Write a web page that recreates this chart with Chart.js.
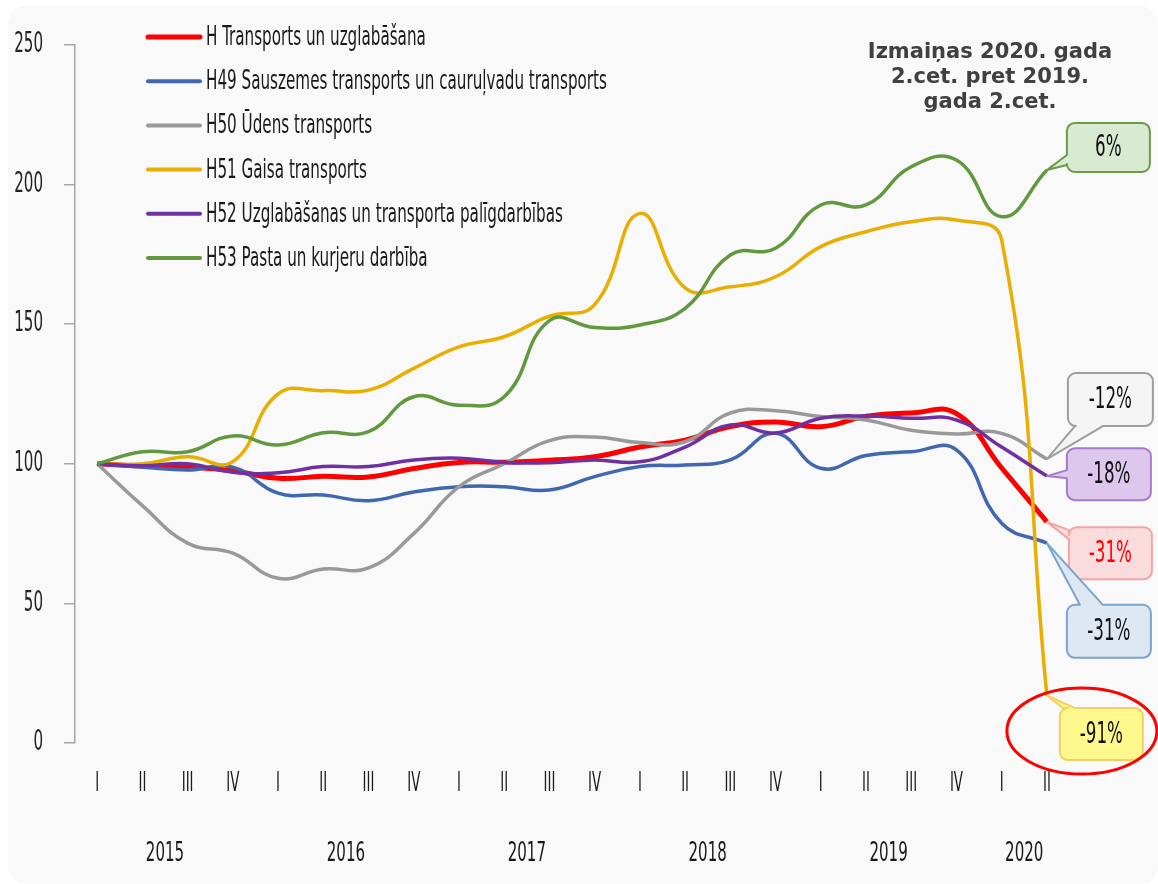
<!DOCTYPE html>
<html>
<head>
<meta charset="utf-8">
<script src="https://cdn.jsdelivr.net/npm/chart.js@4.4.0/dist/chart.umd.min.js"></script>
<style>
  html, body { margin: 0; padding: 0; background: #ffffff; }
  #frame { position: absolute; left: 8px; top: 6px; width: 1150px; height: 878px; background: #f9f9f9; border-radius: 18px; }
  #wrap { position: absolute; left: 0; top: 0; width: 1158px; height: 884px; }
</style>
</head>
<body>
<div id="frame"></div>
<div id="wrap"><canvas id="myChart" width="1158" height="884"></canvas></div>
<script>
// dati: indeksi pa ceturkšņiem, 2015. gada I cet. = 100
const quarters = ['I','II','III','IV','I','II','III','IV','I','II','III','IV','I','II','III','IV','I','II','III','IV','I','II'];
const years = ['2015','2015','2015','2015','2016','2016','2016','2016','2017','2017','2017','2017',
               '2018','2018','2018','2018','2019','2019','2019','2019','2020','2020'];
const yTicks = [0, 50, 100, 150, 200, 250];

const seriesNames = [
  'H Transports un uzglabāšana',
  'H49 Sauszemes transports un cauruļvadu transports',
  'H50 Ūdens transports',
  'H51 Gaisa transports',
  'H52 Uzglabāšanas un transporta palīgdarbības',
  'H53 Pasta un kurjeru darbība'
];
const hTotal = [100, 99.2, 98.8, 97.5, 94.8, 95.5, 95.3, 98.3, 100.5, 100.6, 101.3, 102.5, 106, 108.5, 113.3, 115, 113.3, 117, 118.2, 118, 98.5, 79.2];
const h49 = [100, 98.8, 97.8, 98.8, 89.5, 88.8, 86.8, 89.9, 91.8, 91.8, 90.6, 95.4, 99, 99.6, 101.4, 110.9, 98.4, 103, 104.3, 105, 78.7, 71.6];
const h50 = [100, 85, 71.6, 68, 59, 62.3, 62.7, 75, 91.8, 100, 108.3, 109.6, 107.6, 107.9, 118.2, 119, 116.9, 115.7, 112, 110.7, 110.9, 101.7];
const h51 = [100, 100, 102.5, 100.8, 125, 126.2, 126.4, 134.2, 141.9, 145.5, 152.9, 157, 189.7, 163, 163.4, 167, 177.8, 183.1, 186.7, 187.3, 180.2, 17];
const h52 = [100, 99.3, 100, 97, 96.8, 99, 99, 101.4, 102, 100.5, 100.4, 101.4, 100.7, 106, 113.9, 111, 116.3, 117.1, 116.3, 115.7, 106, 95.6];
const h53 = [100, 104.3, 104.3, 110, 106.7, 111.1, 111.5, 124, 121, 124, 151.3, 148.8, 149.7, 155.7, 174.8, 177.2, 192.7, 192.7, 206.4, 208.8, 188.5, 205.2];
const changeLabels = ['-31%', '-31%', '-12%', '-91%', '-18%', '6%'];
const titleLines = ['Izmaiņas 2020. gada', '2.cet. pret 2019.', 'gada 2.cet.'];

const colors = ['#ff0000', '#4067b0', '#999999', '#e8ae00', '#7030a0', '#62993e'];
const FONT = "'Liberation Sans Narrow', 'DejaVu Sans Condensed', 'Roboto Condensed', 'Liberation Sans', sans-serif";

// izsaukuma lodziņi pie līniju galiem
const callouts = [
  { fill: '#fbdcdc', stroke: '#f5a3a3', txt: '#ff0000', dx: 22, at: 68,  w: 83, h: 52, side: 'left',   a: 3,  b: 12 },
  { fill: '#dde8f3', stroke: '#7ba3cf', txt: '#111111', dx: 20, at: 40,  w: 84, h: 53, side: 'top',    a: 13, b: 36 },
  { fill: '#f5f5f5', stroke: '#9e9e9e', txt: '#111111', dx: 21, at: 123, w: 85, h: 53, side: 'bottom', a: 7,  b: 35 },
  { fill: '#fff98d', stroke: '#f5d060', txt: '#111111', dx: 13, at: 3.2, w: 83, h: 52, side: 'top',    a: 3,  b: 15, ring: true },
  { fill: '#dec7ec', stroke: '#a27cc9', txt: '#111111', dx: 20, at: 96.3, w: 84, h: 52, side: 'left',  a: 22, b: 30 },
  { fill: '#d8ead2', stroke: '#6d9a48', txt: '#111111', dx: 20, at: 213.3, w: 83, h: 49, side: 'left', a: 32, b: 42 }
];

function yearCenter(y) {
  const idx = years.map((v, i) => v === y ? i : -1).filter(i => i >= 0);
  return (idx[0] + idx[idx.length - 1]) / 2;
}
const yearNames = years.filter((v, i) => years.indexOf(v) === i);

// šaurais fonts nav pieejams, tāpēc tekstu saspiežam horizontāli
function narrowText(ctx, text, x, y, size, color, align, sx) {
  ctx.save();
  ctx.font = size + 'px ' + FONT;
  ctx.fillStyle = color;
  ctx.textAlign = align;
  ctx.textBaseline = 'middle';
  ctx.translate(x, y);
  ctx.scale(sx, 1);
  ctx.fillText(text, 0, 0);
  ctx.restore();
}

function calloutPath(ctx, x, y, w, h, r, side, a, b, tx, ty) {
  ctx.beginPath();
  ctx.moveTo(x + r, y);
  if (side === 'top') { ctx.lineTo(x + a, y); ctx.lineTo(tx, ty); ctx.lineTo(x + b, y); }
  ctx.arcTo(x + w, y, x + w, y + h, r);
  ctx.arcTo(x + w, y + h, x, y + h, r);
  if (side === 'bottom') { ctx.lineTo(x + b, y + h); ctx.lineTo(tx, ty); ctx.lineTo(x + a, y + h); }
  ctx.arcTo(x, y + h, x, y, r);
  if (side === 'left') { ctx.lineTo(x, y + b); ctx.lineTo(tx, ty); ctx.lineTo(x, y + a); }
  ctx.arcTo(x, y, x + w, y, r);
  ctx.closePath();
}

const overlay = {
  id: 'overlay',
  afterDraw(chart) {
    const ctx = chart.ctx;
    const xs = chart.scales.x, x2 = chart.scales.x2, ys = chart.scales.y;
    const area = chart.chartArea;
    ctx.save();

    // asu teksti
    ys.ticks.forEach(t => narrowText(ctx, String(t.value), area.left - 32, ys.getPixelForValue(t.value), 28, '#222222', 'right', 0.6));
    xs.ticks.forEach(t => narrowText(ctx, quarters[t.value], xs.getPixelForValue(t.value), area.bottom + 41, 27, '#1a1a1a', 'center', 0.55));
    x2.ticks.forEach((t, i) => narrowText(ctx, yearNames[i], x2.getPixelForValue(t.value), area.bottom + 111, 27, '#1a1a1a', 'center', 0.62));

    // leģenda diagrammas iekšpusē
    chart.data.datasets.forEach((ds, i) => {
      const y = area.top - 8 + i * 44.2;
      const x = area.left + 73;
      ctx.strokeStyle = ds.borderColor;
      ctx.lineWidth = i === 0 ? 5 : 4;
      ctx.lineCap = 'round';
      ctx.beginPath(); ctx.moveTo(x, y); ctx.lineTo(x + 52, y); ctx.stroke();
      narrowText(ctx, ds.label, x + 58, y + 1, 27, '#1a1a1a', 'left', 0.625);
    });

    // virsraksts labajā pusē
    ctx.fillStyle = '#404040';
    ctx.font = "bold 21px 'DejaVu Sans'";
    ctx.textAlign = 'center';
    ctx.textBaseline = 'middle';
    titleLines.forEach((t, k) => ctx.fillText(t, area.right - 160, area.top + 8 + k * 25));

    // lodziņi
    chart.data.datasets.forEach((ds, i) => {
      const c = callouts[i];
      const last = ds.data[ds.data.length - 1];
      const tx = xs.getPixelForValue(last.x), ty = ys.getPixelForValue(last.y);
      const bx = tx + c.dx, by = ys.getPixelForValue(c.at) - c.h / 2;
      calloutPath(ctx, bx, by, c.w, c.h, 8, c.side, c.a, c.b, tx, ty);
      ctx.fillStyle = c.fill; ctx.fill();
      ctx.strokeStyle = c.stroke; ctx.lineWidth = 2; ctx.lineJoin = 'round'; ctx.stroke();
      narrowText(ctx, changeLabels[i], bx + c.w / 2, by + c.h / 2 + 1, 30, c.txt, 'center', 0.62);
      if (c.ring) {
        ctx.beginPath();
        ctx.ellipse(bx + c.w / 2 - 19.5, by + c.h / 2 - 3, 75, 43, 0, 0, Math.PI * 2);
        ctx.strokeStyle = '#ff0000'; ctx.lineWidth = 3; ctx.stroke();
      }
    });
    ctx.restore();
  }
};

const series = [hTotal, h49, h50, h51, h52, h53];
const ctx = document.getElementById('myChart').getContext('2d');
const myChart = new Chart(ctx, {
  type: 'line',
  data: {
    datasets: series.map((vals, n) => ({
      label: seriesNames[n],
      data: vals.map((v, i) => ({ x: i, y: v })),
      borderColor: colors[n],
      backgroundColor: colors[n],
      borderWidth: n === 0 ? 5 : 3.5,
      pointRadius: 0,
      tension: 0.45,
      fill: false,
      order: series.length - n
    }))
  },
  options: {
    responsive: false,
    animation: false,
    devicePixelRatio: 1,
    layout: { padding: { top: 45, right: 8, left: 0, bottom: 0 } },
    plugins: { legend: { display: false }, tooltip: { enabled: false } },
    scales: {
      x: {
        type: 'linear', position: 'bottom', min: -0.49, max: 23.28,
        grid: { display: false, drawTicks: false },
        border: { display: false },
        afterBuildTicks: s => { s.ticks = quarters.map((q, i) => ({ value: i })); },
        afterFit: s => { s.height = 70; },
        ticks: { display: false }
      },
      x2: {
        type: 'linear', position: 'bottom', min: -0.49, max: 23.28,
        grid: { display: false, drawTicks: false },
        border: { display: false },
        afterBuildTicks: s => { s.ticks = yearNames.map(y => ({ value: yearCenter(y) })); },
        afterFit: s => { s.height = 71; },
        ticks: { display: false }
      },
      y: {
        min: 0, max: 250,
        afterBuildTicks: s => { s.ticks = yTicks.map(v => ({ value: v })); },
        afterFit: s => { s.width = 75; },
        grid: { drawOnChartArea: false, drawTicks: true, tickLength: 11, color: '#a6a6a6', lineWidth: 1.5 },
        border: { display: true, color: '#a6a6a6', width: 1.5 },
        ticks: { display: false }
      }
    }
  },
  plugins: [overlay]
});
</script>
</body>
</html>
